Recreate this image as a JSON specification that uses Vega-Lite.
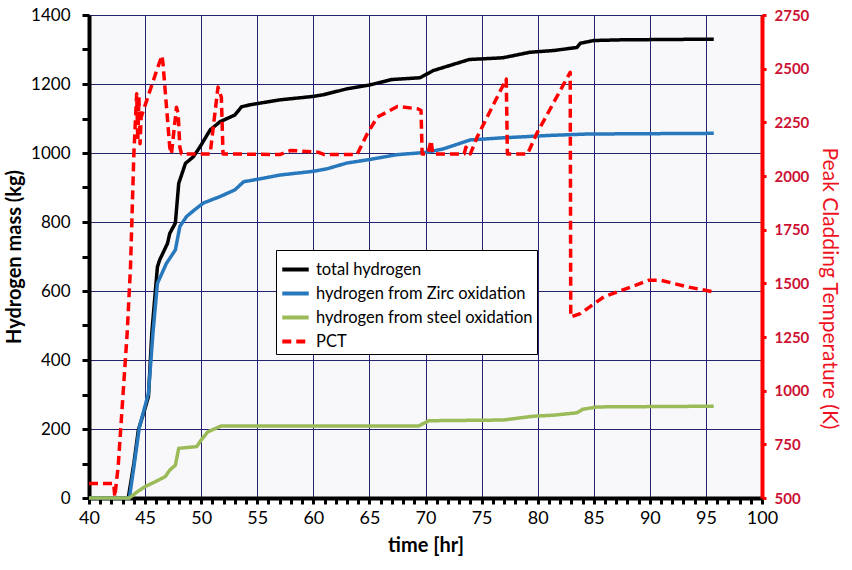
{
  "$schema": "https://vega.github.io/schema/vega-lite/v6.json",
  "width": 673,
  "height": 483,
  "autosize": "none",
  "padding": {"left": 89, "top": 15, "right": 90, "bottom": 72},
  "background": "white",
  "config": {
    "font": "Lato",
    "view": {"fill": "#F8F8FB", "stroke": null}
  },
  "datasets": {
    "h": [
      {"t": 40, "v": 0, "series": "total hydrogen"},
      {"t": 43.5, "v": 0, "series": "total hydrogen"},
      {"t": 44.0, "v": 100, "series": "total hydrogen"},
      {"t": 44.4, "v": 197, "series": "total hydrogen"},
      {"t": 45.0, "v": 260, "series": "total hydrogen"},
      {"t": 45.3, "v": 294, "series": "total hydrogen"},
      {"t": 45.6, "v": 478, "series": "total hydrogen"},
      {"t": 46.1, "v": 670, "series": "total hydrogen"},
      {"t": 46.3, "v": 690, "series": "total hydrogen"},
      {"t": 47.0, "v": 738, "series": "total hydrogen"},
      {"t": 47.2, "v": 767, "series": "total hydrogen"},
      {"t": 47.7, "v": 797, "series": "total hydrogen"},
      {"t": 48.0, "v": 912, "series": "total hydrogen"},
      {"t": 48.6, "v": 970, "series": "total hydrogen"},
      {"t": 49.3, "v": 989, "series": "total hydrogen"},
      {"t": 49.9, "v": 1018, "series": "total hydrogen"},
      {"t": 50.8, "v": 1067, "series": "total hydrogen"},
      {"t": 51.7, "v": 1091, "series": "total hydrogen"},
      {"t": 53.0, "v": 1110, "series": "total hydrogen"},
      {"t": 53.6, "v": 1134, "series": "total hydrogen"},
      {"t": 54.4, "v": 1140, "series": "total hydrogen"},
      {"t": 57, "v": 1154, "series": "total hydrogen"},
      {"t": 60, "v": 1164, "series": "total hydrogen"},
      {"t": 60.9, "v": 1169, "series": "total hydrogen"},
      {"t": 63, "v": 1186, "series": "total hydrogen"},
      {"t": 65, "v": 1197, "series": "total hydrogen"},
      {"t": 67, "v": 1213, "series": "total hydrogen"},
      {"t": 69.5, "v": 1218, "series": "total hydrogen"},
      {"t": 70.7, "v": 1239, "series": "total hydrogen"},
      {"t": 72.1, "v": 1253, "series": "total hydrogen"},
      {"t": 73.9, "v": 1271, "series": "total hydrogen"},
      {"t": 76.9, "v": 1276, "series": "total hydrogen"},
      {"t": 79.3, "v": 1292, "series": "total hydrogen"},
      {"t": 81.4, "v": 1297, "series": "total hydrogen"},
      {"t": 82.6, "v": 1302, "series": "total hydrogen"},
      {"t": 83.5, "v": 1306, "series": "total hydrogen"},
      {"t": 83.8, "v": 1318, "series": "total hydrogen"},
      {"t": 85, "v": 1326, "series": "total hydrogen"},
      {"t": 87.4, "v": 1328, "series": "total hydrogen"},
      {"t": 95.7, "v": 1330, "series": "total hydrogen"},

      {"t": 40, "v": 0, "series": "hydrogen from Zirc oxidation"},
      {"t": 43.6, "v": 0, "series": "hydrogen from Zirc oxidation"},
      {"t": 44.0, "v": 90, "series": "hydrogen from Zirc oxidation"},
      {"t": 44.5, "v": 207, "series": "hydrogen from Zirc oxidation"},
      {"t": 45.3, "v": 303, "series": "hydrogen from Zirc oxidation"},
      {"t": 45.7, "v": 478, "series": "hydrogen from Zirc oxidation"},
      {"t": 46.1, "v": 622, "series": "hydrogen from Zirc oxidation"},
      {"t": 46.9, "v": 680, "series": "hydrogen from Zirc oxidation"},
      {"t": 47.7, "v": 719, "series": "hydrogen from Zirc oxidation"},
      {"t": 48.1, "v": 787, "series": "hydrogen from Zirc oxidation"},
      {"t": 48.7, "v": 816, "series": "hydrogen from Zirc oxidation"},
      {"t": 49.4, "v": 835, "series": "hydrogen from Zirc oxidation"},
      {"t": 50.2, "v": 855, "series": "hydrogen from Zirc oxidation"},
      {"t": 51.7, "v": 874, "series": "hydrogen from Zirc oxidation"},
      {"t": 53.0, "v": 893, "series": "hydrogen from Zirc oxidation"},
      {"t": 53.8, "v": 917, "series": "hydrogen from Zirc oxidation"},
      {"t": 54.4, "v": 920, "series": "hydrogen from Zirc oxidation"},
      {"t": 57, "v": 936, "series": "hydrogen from Zirc oxidation"},
      {"t": 60, "v": 947, "series": "hydrogen from Zirc oxidation"},
      {"t": 61.2, "v": 954, "series": "hydrogen from Zirc oxidation"},
      {"t": 63, "v": 971, "series": "hydrogen from Zirc oxidation"},
      {"t": 65, "v": 981, "series": "hydrogen from Zirc oxidation"},
      {"t": 67.4, "v": 995, "series": "hydrogen from Zirc oxidation"},
      {"t": 70.1, "v": 1002, "series": "hydrogen from Zirc oxidation"},
      {"t": 71.6, "v": 1012, "series": "hydrogen from Zirc oxidation"},
      {"t": 74, "v": 1038, "series": "hydrogen from Zirc oxidation"},
      {"t": 76.9, "v": 1044, "series": "hydrogen from Zirc oxidation"},
      {"t": 81.1, "v": 1051, "series": "hydrogen from Zirc oxidation"},
      {"t": 84.4, "v": 1055, "series": "hydrogen from Zirc oxidation"},
      {"t": 95.7, "v": 1057, "series": "hydrogen from Zirc oxidation"},

      {"t": 40, "v": 0, "series": "hydrogen from steel oxidation"},
      {"t": 43.6, "v": 0, "series": "hydrogen from steel oxidation"},
      {"t": 44.3, "v": 18, "series": "hydrogen from steel oxidation"},
      {"t": 45.0, "v": 33, "series": "hydrogen from steel oxidation"},
      {"t": 45.9, "v": 47, "series": "hydrogen from steel oxidation"},
      {"t": 46.8, "v": 62, "series": "hydrogen from steel oxidation"},
      {"t": 47.2, "v": 81, "series": "hydrogen from steel oxidation"},
      {"t": 47.7, "v": 95, "series": "hydrogen from steel oxidation"},
      {"t": 48.0, "v": 144, "series": "hydrogen from steel oxidation"},
      {"t": 49.6, "v": 149, "series": "hydrogen from steel oxidation"},
      {"t": 50.0, "v": 168, "series": "hydrogen from steel oxidation"},
      {"t": 50.6, "v": 192, "series": "hydrogen from steel oxidation"},
      {"t": 51.8, "v": 209, "series": "hydrogen from steel oxidation"},
      {"t": 69.4, "v": 209, "series": "hydrogen from steel oxidation"},
      {"t": 70.3, "v": 224, "series": "hydrogen from steel oxidation"},
      {"t": 76.9, "v": 226, "series": "hydrogen from steel oxidation"},
      {"t": 79.6, "v": 237, "series": "hydrogen from steel oxidation"},
      {"t": 81.4, "v": 240, "series": "hydrogen from steel oxidation"},
      {"t": 83.5, "v": 247, "series": "hydrogen from steel oxidation"},
      {"t": 84.0, "v": 257, "series": "hydrogen from steel oxidation"},
      {"t": 85.3, "v": 264, "series": "hydrogen from steel oxidation"},
      {"t": 95.7, "v": 266, "series": "hydrogen from steel oxidation"}
    ],
    "pct": [
      {"t": 40, "v": 568, "series": "PCT"},
      {"t": 42.2, "v": 568, "series": "PCT"},
      {"t": 42.3, "v": 506, "series": "PCT"},
      {"t": 42.6, "v": 646, "series": "PCT"},
      {"t": 43.4, "v": 1266, "series": "PCT"},
      {"t": 43.7, "v": 1576, "series": "PCT"},
      {"t": 44.0, "v": 2103, "series": "PCT"},
      {"t": 44.25, "v": 2383, "series": "PCT"},
      {"t": 44.35, "v": 2165, "series": "PCT"},
      {"t": 44.45, "v": 2367, "series": "PCT"},
      {"t": 44.55, "v": 2150, "series": "PCT"},
      {"t": 44.65, "v": 2274, "series": "PCT"},
      {"t": 45.14, "v": 2351, "series": "PCT"},
      {"t": 46.03, "v": 2491, "series": "PCT"},
      {"t": 46.5, "v": 2561, "series": "PCT"},
      {"t": 46.6, "v": 2522, "series": "PCT"},
      {"t": 47.2, "v": 2134, "series": "PCT"},
      {"t": 47.35, "v": 2103, "series": "PCT"},
      {"t": 47.8, "v": 2320, "series": "PCT"},
      {"t": 47.95, "v": 2290, "series": "PCT"},
      {"t": 48.1, "v": 2134, "series": "PCT"},
      {"t": 48.25, "v": 2103, "series": "PCT"},
      {"t": 50.8, "v": 2103, "series": "PCT"},
      {"t": 51.5, "v": 2414, "series": "PCT"},
      {"t": 51.8, "v": 2367, "series": "PCT"},
      {"t": 51.95, "v": 2103, "series": "PCT"},
      {"t": 57, "v": 2100, "series": "PCT"},
      {"t": 58, "v": 2119, "series": "PCT"},
      {"t": 60.4, "v": 2111, "series": "PCT"},
      {"t": 61, "v": 2100, "series": "PCT"},
      {"t": 63.9, "v": 2100, "series": "PCT"},
      {"t": 64.8, "v": 2196, "series": "PCT"},
      {"t": 65.7, "v": 2274, "series": "PCT"},
      {"t": 67.5, "v": 2324, "series": "PCT"},
      {"t": 69.3, "v": 2313, "series": "PCT"},
      {"t": 69.6, "v": 2305, "series": "PCT"},
      {"t": 69.7, "v": 2103, "series": "PCT"},
      {"t": 70.2, "v": 2103, "series": "PCT"},
      {"t": 70.5, "v": 2165, "series": "PCT"},
      {"t": 70.65, "v": 2103, "series": "PCT"},
      {"t": 73.45, "v": 2103, "series": "PCT"},
      {"t": 73.6, "v": 2134, "series": "PCT"},
      {"t": 74.0, "v": 2103, "series": "PCT"},
      {"t": 74.6, "v": 2181, "series": "PCT"},
      {"t": 77.2, "v": 2452, "series": "PCT"},
      {"t": 77.3, "v": 2103, "series": "PCT"},
      {"t": 79.1, "v": 2103, "series": "PCT"},
      {"t": 79.9, "v": 2196, "series": "PCT"},
      {"t": 82.9, "v": 2483, "series": "PCT"},
      {"t": 82.95, "v": 1343, "series": "PCT"},
      {"t": 83.8, "v": 1359, "series": "PCT"},
      {"t": 85.9, "v": 1437, "series": "PCT"},
      {"t": 88.3, "v": 1483, "series": "PCT"},
      {"t": 89.9, "v": 1514, "series": "PCT"},
      {"t": 91, "v": 1514, "series": "PCT"},
      {"t": 93.4, "v": 1483, "series": "PCT"},
      {"t": 95.7, "v": 1460, "series": "PCT"}
    ]
  },
  "encoding": {
    "x": {
      "field": "t", "type": "quantitative",
      "scale": {"domain": [40, 100], "nice": false},
      "axis": {
        "title": "time [hr]",
        "titleFontSize": 20, "titleFontWeight": "bold", "titlePadding": 8, "titleColor": "black",
        "values": [40,41,42,43,44,45,46,47,48,49,50,51,52,53,54,55,56,57,58,59,60,61,62,63,64,65,66,67,68,69,70,71,72,73,74,75,76,77,78,79,80,81,82,83,84,85,86,87,88,89,90,91,92,93,94,95,96,97,98,99,100],
        "labelExpr": "datum.value % 5 == 0 ? datum.label : ''",
        "labelOverlap": false,
        "labelFontSize": 18, "labelColor": "black", "labelPadding": 5,
        "labelFlush": false,
        "domainColor": "black", "domainWidth": 4,
        "tickColor": "black", "tickWidth": 3, "tickSize": 6,
        "grid": true, "gridColor": "#23236E", "gridWidth": 1,
        "gridOpacity": {"condition": {"test": "datum.value % 5 == 0", "value": 1}, "value": 0}
      }
    },
    "color": {
      "field": "series", "type": "nominal",
      "scale": {
        "domain": ["total hydrogen", "hydrogen from Zirc oxidation", "hydrogen from steel oxidation", "PCT"],
        "range": ["#000000", "#2878BD", "#9BBB59", "#FF0000"]
      },
      "legend": {
        "title": null, "orient": "none", "legendX": 187, "legendY": 235,
        "strokeColor": "black", "fillColor": "white", "padding": 4,
        "symbolType": "stroke", "symbolSize": 700, "symbolStrokeWidth": 4,
        "labelFontSize": 16.5, "labelColor": "black", "rowPadding": -4, "labelOffset": 5, "labelLimit": 0
      }
    },
    "strokeDash": {
      "field": "series", "type": "nominal",
      "scale": {
        "domain": ["total hydrogen", "hydrogen from Zirc oxidation", "hydrogen from steel oxidation", "PCT"],
        "range": [[1, 0], [1, 0], [1, 0], [9, 5]]
      },
      "legend": {
        "title": null, "orient": "none", "legendX": 187, "legendY": 235,
        "strokeColor": "black", "fillColor": "white", "padding": 4,
        "symbolType": "stroke", "symbolSize": 700, "symbolStrokeWidth": 4,
        "labelFontSize": 16.5, "labelColor": "black", "rowPadding": -4, "labelOffset": 5, "labelLimit": 0
      }
    }
  },
  "layer": [
    {
      "data": {"name": "h"},
      "mark": {"type": "line", "strokeWidth": 3.5, "strokeJoin": "round"},
      "encoding": {
        "y": {
          "field": "v", "type": "quantitative",
          "scale": {"domain": [0, 1400], "nice": false},
          "axis": {
            "title": "Hydrogen mass (kg)",
            "titleFontSize": 20, "titleFontWeight": "bold", "titleColor": "black", "titlePadding": 6,
            "values": [0,100,200,300,400,500,600,700,800,900,1000,1100,1200,1300,1400],
            "format": "d",
            "labelExpr": "datum.value % 200 == 0 ? datum.label : ''",
            "labelOverlap": false,
            "labelFontSize": 17, "labelColor": "black", "labelPadding": 12,
            "domainColor": "black", "domainWidth": 4,
            "tickColor": "black", "tickWidth": 3, "tickSize": 7,
            "grid": true, "gridColor": "#23236E", "gridWidth": 1,
            "gridOpacity": {"condition": {"test": "datum.value % 200 == 0", "value": 1}, "value": 0}
          }
        }
      }
    },
    {
      "data": {"name": "pct"},
      "mark": {"type": "line", "strokeWidth": 3.5, "strokeJoin": "round"},
      "encoding": {
        "y": {
          "field": "v", "type": "quantitative",
          "scale": {"domain": [500, 2750], "nice": false},
          "axis": {
            "orient": "right",
            "title": "Peak Cladding Temperature (K)",
            "titleFontSize": 21, "titleFontWeight": "normal", "titleColor": "#EE1122", "titlePadding": 10,
            "titleY": 273, "titleAlign": "center",
            "values": [500, 750, 1000, 1250, 1500, 1750, 2000, 2250, 2500, 2750],
            "format": "d",
            "labelOverlap": false,
            "labelFontSize": 15, "labelFontWeight": "bold", "labelColor": "#CC1133", "labelPadding": 8,
            "domainColor": "#FF0000", "domainWidth": 4,
            "tickColor": "#FF0000", "tickWidth": 3, "tickSize": 4,
            "grid": false
          }
        }
      }
    }
  ],
  "resolve": {"scale": {"y": "independent"}}
}
